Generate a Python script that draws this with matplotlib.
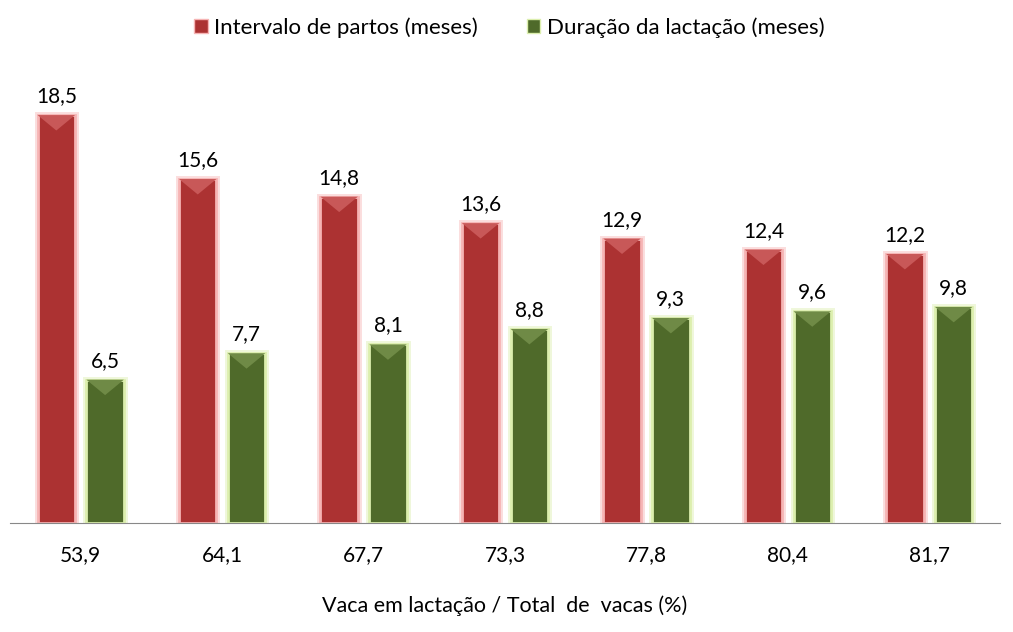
import matplotlib
matplotlib.use("Agg")
import matplotlib.pyplot as plt
from matplotlib.patches import Polygon, Patch
import numpy as np

plt.rcParams["font.family"] = ["Lato", "DejaVu Sans"]

categories = ["53,9", "64,1", "67,7", "73,3", "77,8", "80,4", "81,7"]
intervalo = [18.5, 15.6, 14.8, 13.6, 12.9, 12.4, 12.2]
duracao = [6.5, 7.7, 8.1, 8.8, 9.3, 9.6, 9.8]

series = [
    ("Intervalo de partos (meses)", intervalo, "#AC3232", "#C85858", "#F6B4B4"),
    ("Duração da lactação (meses)", duracao, "#4F6A2A", "#6F8A46", "#DCEFAE"),
]

fig = plt.figure(figsize=(10.13, 6.32), dpi=100)
ax = fig.add_axes([10 / 1013, 1 - 523 / 632, 990 / 1013, (523 - 82) / 632])

x = np.arange(len(categories))
width = 0.265
offsets = [-0.1725, 0.1725]

for (label, vals, color, light, glow), off in zip(series, offsets):
    # brilho suave em volta
    ax.bar(x + off, vals, width=width, color="none", edgecolor=glow,
           linewidth=5, alpha=0.45, zorder=1)
    bars = ax.bar(x + off, vals, width=width, color=color, edgecolor=glow,
                  linewidth=2, zorder=2)
    for b, v in zip(bars, vals):
        x0, w = b.get_x(), b.get_width()
        # bevel no topo
        bev = 0.7
        tri = Polygon([[x0, v], [x0 + w, v], [x0 + w / 2, v - bev]],
                      closed=True, facecolor=light, edgecolor="none", zorder=3)
        ax.add_patch(tri)
        ax.text(x0 + w / 2, v + 0.4, f"{v:.1f}".replace(".", ","),
                ha="center", va="bottom", fontsize=15, color="black")

ax.set_xlim(-0.5, len(categories) - 0.5)
ax.set_ylim(0, 20)
ax.set_xticks(x)
ax.set_xticklabels(categories, fontsize=15)
ax.tick_params(axis="x", length=0, pad=16)
ax.set_yticks([])
for s in ["top", "right", "left"]:
    ax.spines[s].set_visible(False)
ax.spines["bottom"].set_color("#888888")
ax.set_xlabel("Vaca em lactação / Total  de  vacas (%)", fontsize=15.5, labelpad=22)

handles = [Patch(facecolor=c, edgecolor=g, label=l) for l, _, c, _, g in series]
fig.legend(handles=handles, loc="upper center", bbox_to_anchor=(0.503, 1.004),
           ncol=2, frameon=False, fontsize=16, handlelength=0.6, handleheight=0.6,
           handletextpad=0.3, columnspacing=2.2)

fig.savefig("out.png", dpi=100, facecolor="white")
